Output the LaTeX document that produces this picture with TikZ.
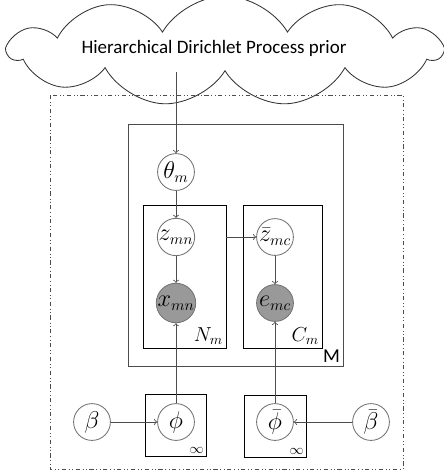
\documentclass[tikz,border=0pt]{standalone}
\usepackage{fontspec}
\setmainfont{Carlito}
\usetikzlibrary{shapes.symbols,arrows}

\tikzset{
  var/.style={circle, draw=black!55, fill=white, minimum size=0.92cm, inner sep=0pt, line width=0.6pt, font=\fontsize{16}{18}\selectfont},
  obs/.style={var, fill=black!40},
  plate/.style={draw, rectangle, inner sep=0pt, outer sep=0pt, line width=0.6pt},
  platelabel/.style={anchor=south east, inner sep=2pt, font=\fontsize{14}{16}\selectfont},
  arr/.style={->, >=to, draw=black!70, line width=0.6pt},
}

\begin{document}
\begin{tikzpicture}[x=0.025cm, y=-0.025cm]
\useasboundingbox (0,0) rectangle (444,470);

% prior
\node[cloud, draw=black!80, line width=0.6pt, cloud puffs=11, cloud puff arc=120, aspect=5.3,
      minimum width=10.8cm, minimum height=2.75cm, inner sep=0pt] (hdp) at (225,51) {};
\node[font=\fontsize{13.5}{16}\selectfont] (hdptext) at (214,48) {Hierarchical Dirichlet Process prior};

% outer box
\draw[dash dot dot, black!70, line width=0.6pt] (50,95) rectangle (403,469);

% plates
\node[plate, draw=black!70, minimum width=5.375cm, minimum height=6.05cm] (Mplate) at (235.5,245) {};
\node[plate, minimum width=2.075cm, minimum height=3.575cm] (Nplate) at (184.5,276.5) {};
\node[plate, minimum width=1.975cm, minimum height=3.575cm] (Cplate) at (282.5,276.5) {};
\node[plate, minimum width=1.525cm, minimum height=1.55cm] (phiplate) at (175.5,425) {};
\node[plate, minimum width=1.55cm, minimum height=1.55cm] (phibarplate) at (275,426) {};

\node[platelabel] at (Mplate.south east) {M};
\node[platelabel] at (Nplate.south east) {$N_m$};
\node[platelabel] at (Cplate.south east) {$C_m$};
\node[platelabel, inner sep=1.5pt, font=\fontsize{10}{12}\selectfont] at (phiplate.south east) {$\infty$};
\node[platelabel, inner sep=1.5pt, font=\fontsize{10}{12}\selectfont] at (phibarplate.south east) {$\infty$};

% variables
\node[var] (theta) at (176,172) {$\theta_m$};
\node[var] (zmn) at (176,237) {$z_{mn}$};
\node[obs] (xmn) at (176,303) {$x_{mn}$};
\node[var] (zbar) at (275,237) {$\bar{z}_{mc}$};
\node[obs] (emc) at (275,303) {$e_{mc}$};
\node[var] (phi) at (176,422) {$\phi$};
\node[var] (phibar) at (275,422) {$\bar{\phi}$};
\node[var] (beta) at (92,422) {$\beta$};
\node[var] (betabar) at (371,422) {$\bar{\beta}$};

% edges
\draw[arr] (hdp.south -| theta) -- (theta);
\draw[arr] (theta) -- (zmn);
\draw[arr] (zmn) -- (xmn);
\draw[arr] (Nplate.east |- zmn) -- (zbar);
\draw[arr] (zbar) -- (emc);
\draw[arr] (phi) -- (xmn);
\draw[arr] (phibar) -- (emc);
\draw[arr] (beta) -- (phi);
\draw[arr] (betabar) -- (phibar);
\end{tikzpicture}
\end{document}
